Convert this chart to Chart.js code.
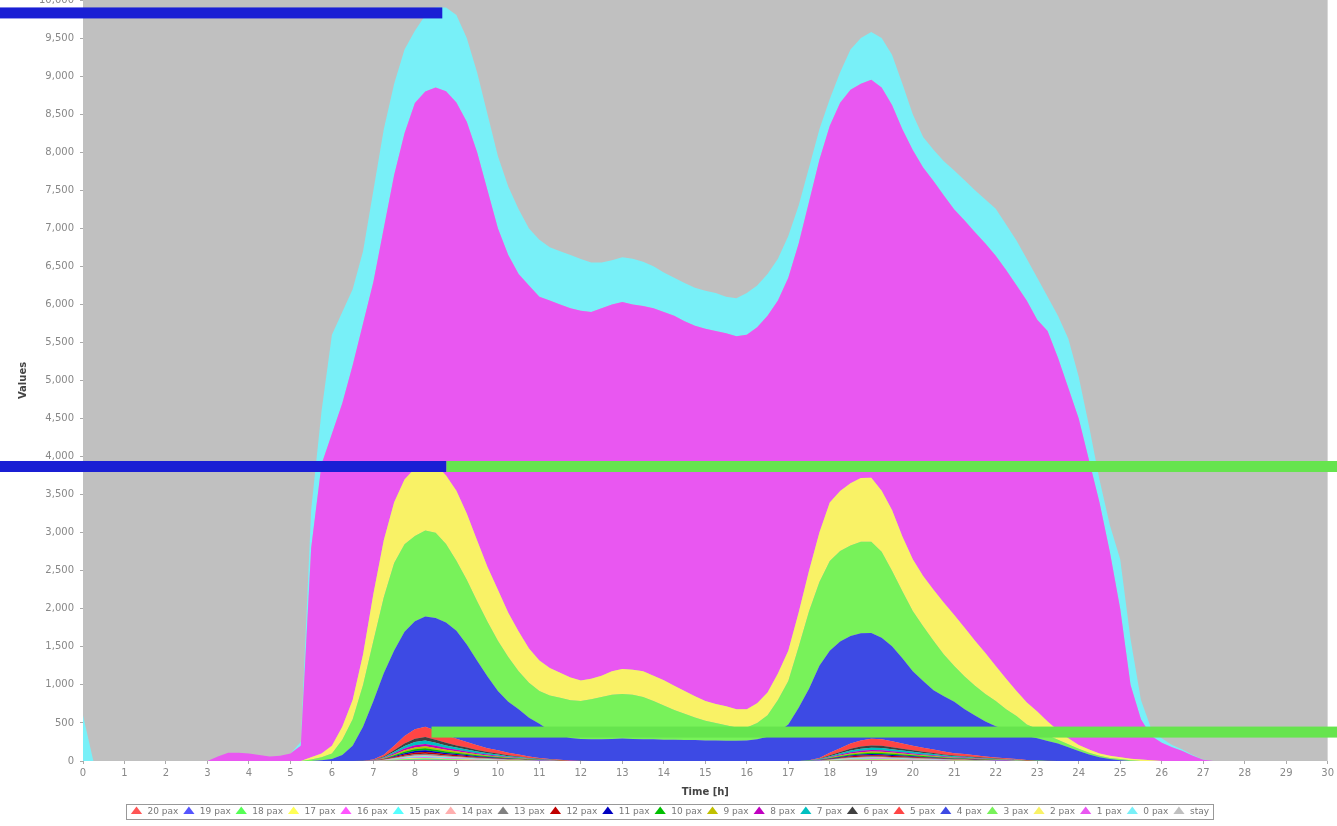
<!DOCTYPE html>
<html><head><meta charset="utf-8">
<script src="https://cdn.jsdelivr.net/npm/chart.js@4.4.0/dist/chart.umd.min.js"></script>
<style>html,body{margin:0;padding:0;background:#fff;}canvas{display:block;}</style>
</head><body>
<canvas id="c" width="1337" height="826"></canvas>
<script>
// time axis (hours), 0.25 h steps
const times = [0,0.25,0.5,0.75,1,1.25,1.5,1.75,2,2.25,2.5,2.75,3,3.25,3.5,3.75,4,4.25,4.5,4.75,
5,5.25,5.5,5.75,6,6.25,6.5,6.75,7,7.25,7.5,7.75,8,8.25,8.5,8.75,9,9.25,9.5,9.75,
10,10.25,10.5,10.75,11,11.25,11.5,11.75,12,12.25,12.5,12.75,13,13.25,13.5,13.75,14,14.25,14.5,14.75,
15,15.25,15.5,15.75,16,16.25,16.5,16.75,17,17.25,17.5,17.75,18,18.25,18.5,18.75,19,19.25,19.5,19.75,
20,20.25,20.5,20.75,21,21.25,21.5,21.75,22,22.25,22.5,22.75,23,23.25,23.5,23.75,24,24.25,24.5,24.75,
25,25.25,25.5,25.75,26,26.25,26.5,26.75,27,27.25,27.5,27.75,28,28.25,28.5,28.75,29,29.25,29.5,29.75,30];

// small groups: morning values start at 6.75 h, evening values start at 17.5 h (zero elsewhere)
const morningStart = 6.75, eveningStart = 17.5;
const pax20m = [0,0,2,4,7,8,9,8,7,6,5,4,3,3,2,2,1,1,0,0,0,0];
const pax20e = [0,1,2,3,5,5,6,6,5,5,4,4,3,3,2,2,2,1,1,1,1,0,0,0];
const pax19m = [0,0,1,4,6,8,9,8,7,6,5,4,4,3,2,2,1,1,0,0,0,0];
const pax19e = [0,1,2,4,5,6,6,5,5,4,4,3,3,2,2,2,1,1,1,1,0,0,0,0];
const pax18m = [0,1,3,7,11,14,14,12,10,9,8,6,5,4,3,3,2,1,1,0,0,0];
const pax18e = [0,1,3,5,7,8,9,9,8,7,6,5,5,4,3,3,2,2,1,1,1,0,0,0];
const pax17m = [0,0,2,4,6,8,9,8,7,6,5,4,3,3,2,2,1,1,0,0,0,0];
const pax17e = [0,1,2,3,4,5,6,6,5,5,4,3,3,2,2,2,1,1,1,1,0,0,0,0];
const pax16m = [0,0,2,4,7,9,9,8,7,6,5,4,3,3,2,2,1,1,1,0,0,0];
const pax16e = [0,1,2,3,5,6,6,6,5,5,4,4,3,2,2,2,1,1,1,1,1,0,0,0];
const pax15m = [0,1,2,6,10,13,14,12,10,9,8,6,5,4,3,3,2,1,1,0,0,0];
const pax15e = [0,1,3,5,7,8,9,9,8,7,6,5,5,4,3,3,2,2,1,1,1,0,0,0];
const pax14m = [0,1,3,6,10,12,13,12,10,9,7,6,5,4,3,2,2,1,1,0,0,0];
const pax14e = [0,1,3,5,7,8,8,8,8,7,6,5,4,4,3,3,2,2,1,1,1,0,0,0];
const pax13m = [0,1,3,8,13,17,18,16,14,12,10,8,7,6,4,3,2,2,1,1,0,0];
const pax13e = [0,2,4,7,9,11,12,11,10,9,8,7,6,5,4,4,3,2,2,1,1,1,0,0];
const pax12m = [0,1,4,10,17,21,23,20,17,15,13,11,9,7,6,4,3,2,1,1,0,0];
const pax12e = [1,2,6,9,12,14,15,14,13,12,10,9,8,6,5,5,4,3,2,2,1,1,1,0];
const pax11m = [0,1,4,10,16,20,22,20,17,14,12,10,8,7,5,4,3,2,1,1,0,0];
const pax11e = [0,2,5,8,11,13,14,14,13,11,10,9,7,6,5,4,4,3,2,2,1,1,0,0];
const pax10m = [0,1,5,12,20,25,27,24,20,17,15,13,10,8,7,5,4,2,2,1,0,0];
const pax10e = [1,2,7,10,14,16,17,17,16,14,12,11,9,8,6,5,5,4,3,2,2,1,1,0];
const pax9m  = [0,1,5,12,19,24,26,24,21,18,15,12,10,8,6,5,3,2,2,1,1,0];
const pax9e  = [1,3,6,10,14,16,18,17,15,14,12,10,9,7,6,5,4,4,3,2,1,1,1,0];
const pax8m  = [0,1,6,14,23,29,32,28,24,20,18,15,12,10,8,6,4,3,2,1,1,0];
const pax8e  = [1,3,8,12,16,19,20,20,18,16,14,12,11,9,7,6,5,4,3,3,2,1,1,0];
const pax7m  = [1,2,8,20,33,42,45,40,34,29,25,21,17,14,11,9,6,4,3,2,1,1];
const pax7e  = [1,4,11,17,23,27,29,29,26,23,20,18,15,13,11,9,8,6,5,4,3,2,1,1];
const pax6m  = [1,2,8,20,32,41,44,40,34,29,25,21,17,14,11,8,6,4,3,2,1,1];
const pax6e  = [1,4,11,17,23,27,29,28,26,23,20,17,15,12,10,9,7,6,5,3,2,1,1,1];
const pax5m  = [2,6,24,60,99,126,135,120,102,87,75,63,51,42,33,26,18,12,8,5,2,1];
const pax5e  = [3,12,33,51,69,81,87,86,78,69,60,53,45,38,32,27,23,18,14,11,8,4,3,2];

// large groups, one value per time step
const pax4 = [0,0,0,0,0,0,0,0,0,0,0,0,0,0,0,0,0,0,0,0,
0,0,0,10,25,80,200,445,770,1070,1250,1370,1420,1450,1480,1480,1420,1280,1110,940,
780,670,595,510,450,375,325,297,285,285,285,290,295,290,285,285,280,280,275,275,
270,270,265,265,270,285,320,380,480,700,940,1210,1340,1400,1410,1410,1390,1335,1250,1120,
980,875,780,725,675,590,525,460,412,374,345,315,290,260,230,180,130,85,50,25,
10,0,0,0,0,0,0,0,0,0,0,0,0,0,0,0,0,0,0,0,0];
const pax3 = [0,0,0,0,0,0,0,0,0,0,0,0,0,0,0,0,0,0,0,0,
0,0,20,40,75,200,350,550,790,1000,1150,1150,1120,1130,1120,1030,920,850,780,720,
660,590,500,460,430,460,490,495,500,525,555,580,585,580,555,505,450,390,345,295,
260,230,205,175,170,215,280,420,570,800,1020,1100,1180,1190,1190,1200,1200,1130,990,880,
790,720,650,550,470,430,390,360,330,270,220,150,120,75,50,40,30,25,20,15,
15,10,0,0,0,0,0,0,0,0,0,0,0,0,0,0,0,0,0,0,0];
const pax2 = [0,0,0,0,0,0,0,0,0,0,0,0,0,0,0,0,0,0,0,0,
0,0,30,50,100,170,250,400,620,750,800,850,890,890,900,900,920,870,800,720,
670,580,520,450,400,360,330,300,270,270,280,310,330,330,340,330,330,320,300,280,
260,250,250,240,240,260,300,350,400,450,530,650,770,790,820,840,840,800,800,720,
680,660,670,680,670,640,590,540,460,400,330,290,230,180,120,80,50,40,30,30,
25,20,20,10,0,0,0,0,0,0,0,0,0,0,0,0,0,0,0,0,0];
const pax1 = [0,0,0,0,0,0,0,0,0,0,0,0,0,60,110,110,100,80,60,70,
100,200,2750,3800,4100,4250,4400,4350,4100,4100,4300,4550,4800,4880,4950,5050,5100,5150,5100,4950,
4750,4700,4700,4770,4780,4830,4840,4850,4860,4820,4830,4820,4820,4800,4800,4830,4840,4860,4860,4870,
4890,4900,4900,4900,4920,4940,4950,4900,4900,4850,4850,4900,4950,5100,5170,5180,5230,5300,5320,5350,
5380,5370,5370,5350,5330,5350,5370,5380,5390,5370,5330,5280,5150,5130,4900,4600,4290,3800,3300,2680,
1950,970,530,320,240,180,130,70,15,0,0,0,0,0,0,0,0,0,0,0,0];
const pax0 = [600,0,0,0,0,0,0,0,0,0,0,0,0,0,0,0,0,0,0,0,
0,50,500,700,1300,1200,1000,950,1200,1300,1200,1100,950,1000,1050,1100,1150,1100,1050,1000,
950,900,850,750,750,700,700,700,680,650,600,580,590,600,580,550,520,500,500,500,
500,500,480,500,550,550,550,550,550,500,450,400,350,400,530,600,630,650,660,600,
470,400,410,450,510,530,550,580,620,600,590,550,550,450,550,650,550,450,300,350,
650,600,250,90,60,30,20,10,5,0,0,0,0,0,0,0,0,0,0,0,0];
const stay = times.map(() => 0);

const seriesLabels = ['20 pax','19 pax','18 pax','17 pax','16 pax','15 pax','14 pax','13 pax','12 pax','11 pax',
  '10 pax','9 pax','8 pax','7 pax','6 pax','5 pax','4 pax','3 pax','2 pax','1 pax','0 pax','stay'];
const yTickStep = 500;
const xTickStep = 1;

// highlight bars drawn over the picture (values in data units)
const highlightBars = [
  { color:'#1a1fd4', y:9830, from:null, to:8.66 },
  { color:'#1a1fd4', y:3870, from:null, to:8.76 },
  { color:'#66e44e', y:3870, from:8.76, to:null },
  { color:'#66e44e', y:380,  from:8.4,  to:null }
];

function spread(m, e) {
  const out = times.map(() => 0);
  const i0 = times.indexOf(morningStart), i1 = times.indexOf(eveningStart);
  m.forEach((v, k) => out[i0 + k] = v);
  e.forEach((v, k) => out[i1 + k] = v);
  return out;
}

const seriesData = [
  spread(pax20m,pax20e), spread(pax19m,pax19e), spread(pax18m,pax18e), spread(pax17m,pax17e),
  spread(pax16m,pax16e), spread(pax15m,pax15e), spread(pax14m,pax14e), spread(pax13m,pax13e),
  spread(pax12m,pax12e), spread(pax11m,pax11e), spread(pax10m,pax10e), spread(pax9m,pax9e),
  spread(pax8m,pax8e), spread(pax7m,pax7e), spread(pax6m,pax6e), spread(pax5m,pax5e),
  pax4, pax3, pax2, pax1, pax0, stay
];
const colors = ['#ff5555','#5555ff','#55ff55','#ffff55','#ff55ff','#55ffff','#ffafaf','#808080',
  '#c00000','#0000c0','#00c000','#c0c000','#c000c0','#00c0c0','#404040','#ff4545',
  '#3d4ae4','#78f25a','#f9f266','#e957f1','#78f0f8','#c0c0c0'];

const datasets = seriesLabels.map((lab, i) => ({
  label: lab,
  data: seriesData[i],
  backgroundColor: colors[i],
  borderColor: colors[i],
  borderWidth: 0,
  fill: i === 0 ? 'origin' : '-1',
  pointRadius: 0,
  pointHoverRadius: 0,
  pointStyle: 'triangle',
  tension: 0
}));

const plotBg = {
  id: 'plotBg',
  beforeDraw(chart) {
    const { ctx, chartArea: a } = chart;
    ctx.save();
    ctx.fillStyle = '#c0c0c0';
    ctx.fillRect(a.left, a.top, a.right - a.left, a.bottom - a.top);
    ctx.restore();
  }
};
const legendBox = {
  id: 'legendBox',
  afterDraw(chart) {
    const lg = chart.legend;
    if (!lg || !lg.legendHitBoxes || !lg.legendHitBoxes.length) return;
    const hb = lg.legendHitBoxes;
    const l = Math.min(...hb.map(h => h.left)) - 4;
    const r = Math.max(...hb.map(h => h.left + h.width)) + 4;
    const t = Math.min(...hb.map(h => h.top)) - 3;
    const b = Math.max(...hb.map(h => h.top + h.height)) + 3;
    const ctx = chart.ctx;
    ctx.save();
    ctx.strokeStyle = '#999';
    ctx.lineWidth = 1;
    ctx.strokeRect(Math.round(l) + 0.5, Math.round(t) + 0.5, Math.round(r - l), Math.round(b - t));
    ctx.restore();
  }
};
const highlights = {
  id: 'highlights',
  afterDraw(chart) {
    const { ctx } = chart;
    const xs = chart.scales.x, ys = chart.scales.y;
    ctx.save();
    highlightBars.forEach(h => {
      const x0 = h.from === null ? 0 : xs.getPixelForValue(h.from);
      const x1 = h.to === null ? chart.width : xs.getPixelForValue(h.to);
      const y = ys.getPixelForValue(h.y);
      ctx.fillStyle = h.color;
      ctx.fillRect(x0, y - 5.5, x1 - x0, 11);
    });
    ctx.restore();
  }
};

new Chart(document.getElementById('c'), {
  type: 'line',
  data: { labels: times, datasets },
  options: {
    responsive: false,
    animation: false,
    events: [],
    layout: { padding: { left: 0, right: -2, top: 0, bottom: 0 } },
    plugins: {
      tooltip: { enabled: false },
      filler: { propagate: false },
      legend: {
        position: 'bottom',
        labels: {
          usePointStyle: true,
          pointStyleWidth: 13,
          boxWidth: 7, boxHeight: 7,
          padding: 4,
          color: '#777',
          font: { family: 'DejaVu Sans', size: 9 }
        }
      }
    },
    scales: {
      x: {
        type: 'linear', min: 0, max: 30,
        ticks: { stepSize: xTickStep, color: '#888', font: { family: 'DejaVu Sans', size: 10 }, padding: 3, maxRotation: 0, autoSkip: false },
        grid: { drawOnChartArea: false, tickLength: 3, color: '#aaa' },
        border: { display: false },
        title: { display: true, text: 'Time [h]', color: '#444', font: { family: 'DejaVu Sans', size: 10, weight: 'bold' }, padding: { top: 0, bottom: 5 } },
        afterFit(s) { s.height = 42; }
      },
      y: {
        stacked: true, min: 0, max: 10000,
        ticks: { stepSize: yTickStep, color: '#888', font: { family: 'DejaVu Sans', size: 10 }, padding: 6,
          callback: v => v.toLocaleString('en-US') },
        grid: { drawOnChartArea: false, tickLength: 3, color: '#aaa' },
        border: { display: false },
        title: { display: true, text: 'Values', color: '#444', font: { family: 'DejaVu Sans', size: 10, weight: 'bold' }, padding: { top: 17, bottom: 0 } },
        afterFit(s) { s.width = 83; s.paddingTop = 0; }
      }
    }
  },
  plugins: [plotBg, legendBox, highlights]
});
</script>
</body></html>
